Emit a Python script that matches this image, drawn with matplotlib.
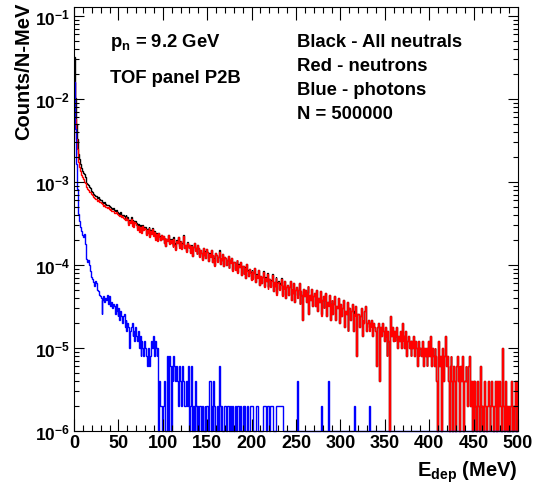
import numpy as np
import matplotlib.pyplot as plt
from matplotlib.ticker import MultipleLocator, LogLocator, NullFormatter, FixedLocator

# ROOT-like bold Helvetica look
plt.rcParams['font.family'] = ['Liberation Sans', 'DejaVu Sans']
plt.rcParams['font.weight'] = 'bold'
plt.rcParams['mathtext.fontset'] = 'custom'
plt.rcParams['mathtext.rm'] = 'Liberation Sans:bold'
plt.rcParams['mathtext.it'] = 'Liberation Sans:bold'
plt.rcParams['mathtext.bf'] = 'Liberation Sans:bold'
plt.rcParams['mathtext.sf'] = 'Liberation Sans:bold'

N_EVENTS = 500000
E_MIN, E_MAX = 0, 500  # 1 MeV bins

# neutron counts per 1 MeV bin
neutron_counts = [
    8000, 2900, 1650, 1250, 1010, 870, 765, 680, 612, 570,
    540, 505, 488, 452, 433, 412, 402, 381, 376, 358,
    346, 331, 327, 318, 309, 312, 298, 301, 290, 286,
    279, 272, 268, 259, 266, 252, 248, 241, 247, 236,
    230, 235, 224, 221, 226, 214, 209, 215, 203, 207,
    198, 194, 201, 188, 192, 186, 181, 176, 187, 172,
    178, 152, 171, 160, 181, 148, 167, 142, 163, 158,
    152, 133, 148, 126, 145, 138, 122, 147, 131, 139,
    137, 115, 131, 121, 140, 109, 128, 118, 134, 112,
    124, 101, 118, 108, 96, 121, 110, 99, 115, 104,
    112, 91, 106, 84, 103, 97, 115, 89, 101, 93,
    99, 83, 104, 88, 76, 97, 91, 108, 81, 94,
    96, 78, 90, 112, 80, 87, 72, 93, 84, 79,
    88, 70, 85, 64, 82, 91, 74, 79, 68, 86,
    80, 63, 75, 69, 58, 81, 66, 72, 61, 77,
    71, 56, 68, 62, 75, 54, 66, 59, 49, 70,
    66, 55, 63, 72, 51, 61, 57, 68, 48, 62,
    60, 50, 57, 64, 46, 58, 53, 61, 42, 55,
    55, 44, 52, 57, 40, 50, 47, 54, 38, 49,
    48, 39, 46, 35, 51, 42, 37, 45, 40, 33,
    42, 34, 40, 46, 31, 38, 35, 43, 29, 37,
    37, 30, 36, 41, 27, 35, 32, 39, 26, 33,
    34, 27, 32, 38, 24, 31, 28, 35, 22, 30,
    31, 25, 29, 34, 21, 28, 26, 32, 20, 27,
    29, 22, 27, 32, 19, 26, 23, 30, 18, 25,
    27, 20, 25, 30, 17, 24, 22, 11, 26, 21,
    25, 18, 23, 28, 13, 22, 19, 26, 16, 21,
    23, 16, 21, 25, 14, 20, 18, 24, 12, 19,
    21, 15, 19, 23, 12, 18, 16, 22, 11, 17,
    19, 13, 17, 21, 11, 16, 15, 20, 10, 16,
    17, 12, 15, 19, 9, 14, 13, 18, 8, 15,
    15, 11, 14, 17, 8, 13, 12, 16, 4, 13,
    13, 9, 12, 15, 7, 11, 10, 14, 16, 8,
    10, 11, 8, 10, 9, 11, 7, 10, 9, 8,
    3, 9, 10, 8, 2, 9, 7, 10, 8, 6,
    9, 7, 4, 8, 6, 0, 12, 7, 9, 6,
    8, 6, 7, 9, 5, 7, 6, 8, 5, 10,
    6, 7, 5, 8, 4, 6, 7, 5, 6, 4,
    6, 5, 7, 4, 6, 5, 3, 6, 4, 5,
    5, 4, 6, 3, 5, 4, 5, 3, 4, 6,
    4, 7, 3, 5, 4, 3, 5, 4, 2, 0,
    6, 3, 4, 0, 5, 3, 2, 4, 7, 3,
    4, 2, 0, 3, 4, 2, 0, 3, 2, 0,
    3, 4, 2, 3, 0, 3, 2, 4, 0, 2,
    2, 3, 2, 1, 3, 4, 1, 2, 0, 2,
    0, 2, 1, 0, 2, 1, 0, 3, 1, 0,
    1, 0, 2, 1, 0, 1, 2, 1, 0, 1,
    2, 1, 0, 1, 2, 0, 2, 0, 1, 2,
    1, 0, 5, 1, 0, 2, 0, 1, 0, 1,
    0, 1, 2, 0, 1, 0, 1, 2, 0, 2,
]

# photon counts per 1 MeV bin, 0-239 MeV
photon_counts_low = [
    8000, 2200, 830, 410, 270, 205, 170, 145, 128, 116,
    108, 118, 90, 68, 59, 54, 57, 50, 42, 36,
    34, 31, 30, 28, 32, 30, 25, 24, 22, 21,
    20, 13, 19, 21, 18, 20, 19, 22, 17, 21,
    19, 16, 18, 15, 17, 16, 13, 17, 14, 12,
    15, 11, 14, 12, 10, 12, 13, 9, 11, 8,
    10, 9, 5, 8, 9, 10, 7, 8, 6, 9,
    7, 6, 8, 5, 7, 4, 6, 5, 4, 6,
    5, 4, 3, 5, 4, 3, 4, 6, 5, 7,
    4, 6, 5, 4, 5, 0, 2, 1, 1, 0,
    1, 2, 1, 0, 0, 4, 0, 4, 3, 0,
    3, 2, 4, 3, 2, 3, 2, 1, 3, 2,
    2, 1, 3, 2, 1, 1, 2, 1, 3, 1,
    0, 1, 3, 0, 1, 0, 2, 1, 0, 1,
    0, 1, 1, 0, 1, 0, 0, 1, 0, 1,
    1, 0, 2, 2, 0, 1, 0, 2, 1, 0,
    0, 1, 0, 3, 1, 0, 1, 0, 0, 1,
    1, 0, 1, 1, 0, 0, 1, 0, 1, 0,
    0, 1, 0, 0, 1, 1, 0, 1, 0, 0,
    1, 0, 1, 0, 0, 1, 0, 0, 1, 1,
    1, 1, 0, 0, 0, 1, 1, 0, 0, 0,
    0, 0, 0, 1, 1, 1, 0, 1, 1, 1,
    0, 1, 1, 1, 0, 0, 0, 1, 1, 1,
    1, 1, 1, 1, 1, 0, 0, 0, 0, 0,
]
# isolated photon hits above 240 MeV: {bin: counts}
photon_counts_tail = {251: 2, 278: 1, 286: 2, 315: 1, 332: 1}

Y_MIN, Y_MAX = 1e-6, 0.128


def to_density(counts):
    # counts per event per MeV; empty bins drawn on the frame bottom like ROOT
    vals = np.asarray(counts, dtype=float) / N_EVENTS
    return np.maximum(vals, Y_MIN)


edges = np.arange(E_MIN, E_MAX + 1, 1)
neutrons = np.array(neutron_counts, dtype=float)
photons = np.zeros(len(edges) - 1)
photons[:len(photon_counts_low)] = photon_counts_low
for b, c in photon_counts_tail.items():
    photons[b] = c
all_neutrals = neutrons + photons

fig = plt.figure(figsize=(5.35, 4.85), dpi=100)
ax = fig.add_axes([74 / 535, 53 / 485, 444 / 535, 424 / 485])

ax.stairs(to_density(all_neutrals), edges, baseline=None, color='black', lw=1.0, clip_on=False)
ax.stairs(to_density(neutrons), edges, baseline=None, color='#ff0000', lw=1.0, clip_on=False)
ax.stairs(to_density(photons), edges, baseline=None, color='#0000ff', lw=1.0, clip_on=False)

ax.set_yscale('log')
ax.set_xlim(E_MIN, E_MAX)
ax.set_ylim(Y_MIN, Y_MAX)

# ticks: inward, on all four sides
ax.xaxis.set_major_locator(MultipleLocator(50))
ax.xaxis.set_minor_locator(MultipleLocator(10))
ax.yaxis.set_major_locator(FixedLocator([1e-6, 1e-5, 1e-4, 1e-3, 1e-2, 1e-1]))
ax.yaxis.set_minor_locator(LogLocator(base=10, subs=np.arange(2, 10)))
ax.yaxis.set_minor_formatter(NullFormatter())
ax.set_yticklabels([r'$10^{-6}$', r'$10^{-5}$', r'$10^{-4}$', r'$10^{-3}$', r'$10^{-2}$', r'$10^{-1}$'])
ax.tick_params(which='both', direction='in', top=True, right=True, width=0.8)
ax.tick_params(axis='x', which='major', length=9, labelsize=13, pad=2)
ax.tick_params(axis='x', which='minor', length=4.5)
ax.tick_params(axis='y', which='major', length=7.5, labelsize=12.5, pad=3)
ax.tick_params(axis='y', which='minor', length=3.8)
for s in ax.spines.values():
    s.set_linewidth(0.8)

# axis titles, ROOT puts them at the far end
fig.text(24 / 535, 1 - 3 / 485, 'Counts/N-MeV', rotation=90, ha='center', va='top', fontsize=14.5)
fig.text(518 / 535, 1 - 477 / 485, r'E$_{\mathrm{dep}}$ (MeV)', ha='right', va='baseline', fontsize=14.5)

# annotations
fig.text(110 / 535, 1 - 47 / 485, r'p$_{\mathrm{n}}$ = 9.2 GeV', ha='left', va='baseline', fontsize=13.3)
fig.text(110 / 535, 1 - 83 / 485, 'TOF panel P2B', ha='left', va='baseline', fontsize=13.3)
right_lines = ['Black - All neutrals', 'Red - neutrons', 'Blue - photons', 'N = 500000']
for i, line in enumerate(right_lines):
    fig.text(297 / 535, 1 - (47 + 24 * i) / 485, line, ha='left', va='baseline', fontsize=13.3)

fig.savefig('out.png', dpi=100)
plt.close(fig)
